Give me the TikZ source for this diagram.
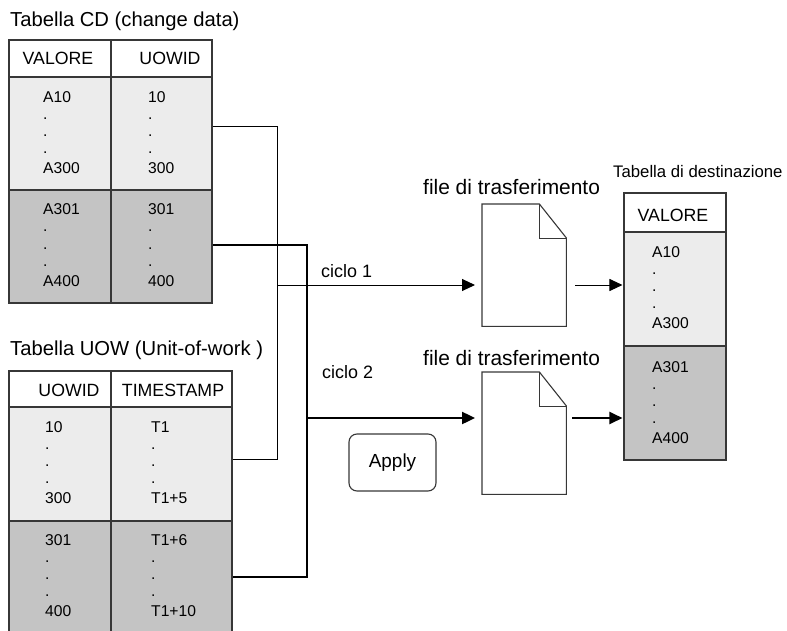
\documentclass[tikz,border=0pt]{standalone}
\usepackage{fontspec}
\setmainfont{Liberation Sans}
\usetikzlibrary{arrows.meta,calc,fit}
\definecolor{cLight}{RGB}{236,236,236}
\definecolor{cDark}{RGB}{196,196,196}
\definecolor{cLine}{RGB}{55,55,55}
\newcommand{\fsz}[1]{\fontsize{#1}{#1}\selectfont}

\begin{document}
\begin{tikzpicture}[
    x=1bp, y=-1bp,
    cell/.style={draw=cLine, line width=1.1bp, inner sep=0pt},
    hdr/.style={cell, fill=white},
    lite/.style={cell, fill=cLight},
    dark/.style={cell, fill=cDark},
    txt/.style={inner sep=0pt, anchor=base west, font=\fsz{15.7}},
    hdtxt/.style={inner sep=0pt, anchor=base, font=\fsz{17.8}},
    ttl/.style={inner sep=0pt, anchor=base west, font=\fsz{20.3}},
    doc/.style={minimum width=84bp, minimum height=122bp, inner sep=0pt, anchor=north west},
    thinln/.style={line width=1bp},
    thickln/.style={line width=2.4bp},
    tip/.style={-{Triangle[length=13bp,width=12bp]}}
]
  \useasboundingbox (0,0) rectangle (787,631);

  % tabelle
  \foreach \n/\xa/\xb in {1/9/111, 2/111/212} {
    \node[hdr, fit={(\xa,40) (\xb,77)}] (cdH\n) {};
    \node[lite, fit={(\xa,77) (\xb,190)}] (cdL\n) {};
    \node[dark, fit={(\xa,190) (\xb,303)}] (cdD\n) {};
  }
  \foreach \n/\xa/\xb in {1/9/111, 2/111/232} {
    \node[hdr, fit={(\xa,371) (\xb,407)}] (uowH\n) {};
    \node[lite, fit={(\xa,407) (\xb,521)}] (uowL\n) {};
    \node[dark, fit={(\xa,521) (\xb,640)}] (uowD\n) {};
  }
  \node[hdr, fit={(624,193) (726,232)}] (dstH) {};
  \node[lite, fit={(624,232) (726,346)}] (dstL) {};
  \node[dark, fit={(624,346) (726,460)}] (dstD) {};

  \node[ttl] (cdTitle) at (10,27) {Tabella CD (change data)};
  \node[ttl] (uowTitle) at (10,355) {Tabella UOW (Unit-of-work )};
  \node[ttl, font=\fsz{16.8}] (dstTitle) at (613,178) {Tabella di destinazione};

  \node[hdtxt] (cdH1t) at (58,65) {VALORE};
  \node[hdtxt] (cdH2t) at (170,65) {UOWID};
  \node[hdtxt] (uowH1t) at (69,396) {UOWID};
  \node[hdtxt] (uowH2t) at (173,396) {TIMESTAMP};
  \node[hdtxt] (dstHt) at (673,222) {VALORE};

  \foreach \i/\x/\y/\a/\b in {1/43/103/A10/A300, 2/148/103/10/300, 3/43/215/A301/A400,
      4/148/215/301/400, 5/45/432/10/300, 6/151/432/T1/T1+5, 7/45/545/301/400,
      8/151/545/T1+6/T1+10, 9/652/257/A10/A300, 10/652/372/A301/A400} {
    \node[txt] (v\i) at (\x,\y) {\a};
    \foreach \k in {1,2,3}
      \node[txt] (v\i d\k) at (\x,\y+17*\k) {.};
    \node[txt] (w\i) at (\x,\y+71) {\b};
  }

  % file di trasferimento
  \foreach \f/\y/\yl in {f1/204/195, f2/372/365} {
    \node[doc] (\f) at (482,\y) {};
    \draw[cLine, line width=1.1bp] (\f.north west) -- ($(\f.north east)+(-27,0)$)
      -- ($(\f.north east)+(0,34)$) -- (\f.south east) -- (\f.south west) -- cycle;
    \draw[cLine, line width=1bp] ($(\f.north east)+(-27,0)$) |- ($(\f.north east)+(0,34)$);
    \node[ttl, font=\fsz{21}] (\f lbl) at (423,\yl) {file di trasferimento};
  }

  \node[draw=cLine, line width=1.1bp, rounded corners=8bp, minimum width=87bp,
    minimum height=57bp, font=\fsz{19}] (apply) at (392.5,462.5) {Apply};

  % collegamenti
  \coordinate (t1) at (277,127);
  \coordinate (t2) at (277,459);
  \coordinate (t3) at (277,285);
  \coordinate (k1) at (307,245);
  \coordinate (k2) at (307,577);
  \coordinate (k3) at (307,418);
  \coordinate (a1) at (575,285);
  \coordinate (a2) at (572,418);

  \draw[thinln] (cdL2.east |- t1) -- (t1) -- (t2) -- (uowL2.east |- t2);
  \draw[thickln] (cdD2.east |- k1) -- (k1) -- (k2) -- (uowD2.east |- k2);
  \draw[thinln, tip, shorten >=7bp] (t3) -- (f1.west |- t3);
  \draw[thickln, tip, shorten >=7bp] (k3) -- (f2.west |- k3);
  \draw[thinln, tip, shorten >=1bp] (a1) -- (dstL.west |- a1);
  \draw[thickln, tip, shorten >=1bp] (a2) -- (dstD.west |- a2);

  \node[ttl, font=\fsz{18}] (ciclo1) at (321,277) {ciclo 1};
  \node[ttl, font=\fsz{18}] (ciclo2) at (322,378) {ciclo 2};
\end{tikzpicture}
\end{document}
